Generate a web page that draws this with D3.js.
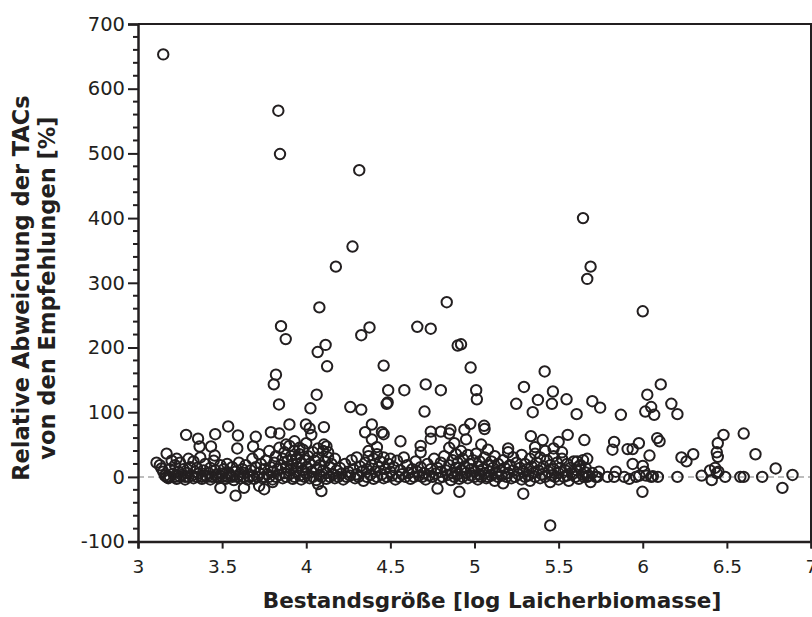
<!DOCTYPE html>
<html><head><meta charset="utf-8">
<script src="https://cdn.jsdelivr.net/npm/d3@7"></script>
<style>
html,body{margin:0;padding:0;background:#fff;}
svg text{fill:#231f20;}
</style></head>
<body><svg id="chart" width="812" height="617"></svg>
<script>
// x = log spawning stock biomass, y = relative deviation of TAC from advice [%]
const xTicks = [3, 3.5, 4, 4.5, 5, 5.5, 6, 6.5, 7];
const xTickLabels = ["3", "3.5", "4", "4.5", "5", "5.5", "6", "6.5", "7"];
const yTicks = [-100, 0, 100, 200, 300, 400, 500, 600, 700];
const yTickLabels = ["-100", "0", "100", "200", "300", "400", "500", "600", "700"];

// high outliers
const highPoints = [
[3.15,653],[3.834,566],[3.844,499],[4.315,474],[5.645,400],[4.275,356],[4.176,325],[5.69,325],[5.67,306],
[4.078,262],[4.835,270],[6.0,256],[3.85,233],[4.376,231],[4.66,232],[4.74,229],[4.327,219],[3.878,213],
[4.068,193],[4.115,204],[4.9,203],[4.92,205],[4.977,169],[4.124,171],[4.46,172],[3.82,158],[3.807,143],
[5.417,163],[6.107,143],[4.71,143],[4.487,134],[4.583,134],[4.8,134],[5.01,134],[5.294,139],[5.466,132],
[6.027,127],[5.014,120],[5.377,119],[5.547,120],[5.70,117],[5.747,107],[5.248,113],[5.46,113],[6.17,113],
[4.484,115],[4.478,113],[3.838,112],[4.062,127],[4.025,106],[4.262,108],[4.327,104],[4.703,101],[5.346,100],
[5.607,97],[5.87,96],[6.206,97],[6.015,101],[6.05,108],[6.068,96],[6.086,60],[6.1,55]
];
// medium points (40-85) and low outliers
const midPoints = [
[3.286,65],[3.357,59],[3.366,47],[3.434,47],[3.456,33],[3.459,66],[3.536,78],[3.594,64],[3.59,44],[3.70,62],
[3.684,47],[3.79,69],[3.84,67],[3.90,81],[3.998,81],[4.02,75],[4.03,65],[4.105,77],[4.105,50],[4.12,47],
[4.39,81],[4.35,69],[4.39,58],[4.45,69],[4.46,66],[4.56,55],[4.74,70],[4.74,59],[4.80,70],[4.857,73],
[4.85,67],[4.975,82],[4.94,73],[5.057,79],[5.06,74],[5.04,50],[5.335,63],[5.405,57],[5.5,54],[5.554,65],
[5.653,57],[5.83,54],[5.82,42],[5.977,52],[5.94,43],[5.91,43],[6.446,52],[6.48,65],[6.44,38],[6.446,31],
[6.6,67],[6.67,35],[6.79,13],[6.83,-17],[6.89,3],[6.71,0],[6.6,0],[6.58,0],[6.49,0],[6.41,-5],[6.43,14],
[6.45,8],[6.4,10],[6.35,2],[6.3,35],[6.23,30],[6.26,24],[6.206,0],[5.998,-23],[5.96,0],[6.05,0],[6.09,0],
[6.04,33],[6.0,17],[6.01,8],[5.94,20],[5.89,0],[5.92,-3],[5.83,0],[5.84,8],[5.73,0],[5.67,0],[5.66,7],
[5.67,28],[5.645,26],[5.61,24],[5.62,16],[5.45,-75],[5.29,-26],[4.91,-23],[4.78,-18],[4.09,-22],[4.07,-11],
[3.58,-29],[3.63,-17],[3.49,-17],[3.75,-19],[3.72,-14],[3.8,-8],[3.11,22],[3.14,13],[3.17,36],[3.23,28],[3.18,-1],
[6.02,2],[6.06,1],[5.79,0],[5.98,2],[6.44,6],
[3.88,50],[3.93,55],[3.96,45],[4.0,52],[4.07,44],[4.13,38],[4.37,40],[4.42,46],[4.68,48],[4.88,52],[4.95,58],
[5.08,42],[5.2,44],[5.36,46],[5.47,44],[5.52,38]
];
// dense band near zero
const bandPoints = [
[3.13,18],[3.15,8],[3.16,2],[3.17,0],[3.18,-2],[3.19,0],[3.19,12],[3.2,25],[3.21,5],[3.22,0],[3.22,18],[3.23,-3],
[3.24,8],[3.25,0],[3.25,22],[3.26,3],[3.27,12],[3.28,0],[3.28,-4],[3.29,6],[3.3,28],[3.3,0],[3.31,15],[3.32,2],
[3.33,-2],[3.33,24],[3.34,8],[3.35,0],[3.35,14],[3.36,5],[3.37,30],[3.38,0],[3.38,-3],[3.39,10],[3.4,2],[3.4,20],
[3.41,0],[3.42,6],[3.43,-4],[3.43,14],[3.44,0],[3.45,25],[3.46,3],[3.46,10],[3.47,0],[3.48,-2],[3.49,18],[3.5,5],
[3.5,0],[3.51,12],[3.52,-3],[3.53,0],[3.53,20],[3.54,6],[3.55,2],[3.56,15],[3.56,0],[3.57,-5],[3.58,8],[3.59,0],
[3.6,22],[3.6,3],[3.61,-2],[3.62,12],[3.63,0],[3.63,6],[3.64,18],[3.65,-4],[3.66,0],[3.67,10],[3.68,28],[3.68,2],
[3.69,-3],[3.7,15],[3.71,0],[3.72,35],[3.72,6],[3.73,20],[3.74,-2],[3.75,0],[3.75,12],[3.76,25],[3.77,4],[3.78,0],
[3.78,40],[3.79,15],[3.8,-4],[3.8,8],[3.81,22],[3.82,0],[3.82,32],[3.83,12],[3.84,3],[3.84,45],[3.85,18],[3.86,-2],
[3.86,28],[3.87,6],[3.87,38],[3.88,0],[3.88,15],[3.89,25],[3.9,4],[3.9,48],[3.91,12],[3.91,32],[3.92,-3],[3.92,20],
[3.93,0],[3.93,40],[3.94,8],[3.94,28],[3.95,15],[3.96,2],[3.96,35],[3.97,22],[3.97,-4],[3.98,10],[3.98,42],[3.99,0],
[3.99,26],[4.0,15],[4.0,5],[4.01,32],[4.02,-2],[4.02,20],[4.03,8],[4.04,38],[4.04,0],[4.05,25],[4.06,12],[4.06,-5],
[4.07,30],[4.08,3],[4.08,18],[4.09,0],[4.1,40],[4.1,10],[4.11,24],[4.12,-3],[4.12,6],[4.13,30],[4.14,0],[4.14,15],
[4.15,20],[4.16,4],[4.17,-2],[4.17,28],[4.18,10],[4.19,0],[4.2,14],[4.21,5],[4.22,-4],[4.23,20],[4.24,0],[4.25,8],
[4.26,2],[4.27,26],[4.28,12],[4.29,-2],[4.3,30],[4.3,4],[4.31,0],[4.32,16],[4.33,8],[4.34,-6],[4.35,22],[4.36,0],
[4.36,12],[4.37,32],[4.38,3],[4.39,18],[4.4,-3],[4.4,28],[4.41,8],[4.42,0],[4.42,35],[4.43,15],[4.44,24],[4.45,4],
[4.46,-2],[4.46,30],[4.47,12],[4.48,0],[4.49,20],[4.5,8],[4.5,28],[4.51,2],[4.52,15],[4.53,-4],[4.54,25],[4.55,0],
[4.56,10],[4.57,4],[4.58,30],[4.59,0],[4.6,18],[4.61,6],[4.62,-3],[4.63,12],[4.64,0],[4.65,24],[4.66,8],[4.67,2],
[4.68,38],[4.68,15],[4.69,0],[4.7,6],[4.71,-4],[4.72,20],[4.73,2],[4.74,12],[4.75,0],[4.76,28],[4.77,5],[4.78,14],
[4.79,-2],[4.8,8],[4.8,22],[4.81,0],[4.82,32],[4.83,10],[4.84,3],[4.85,18],[4.85,45],[4.86,-5],[4.87,26],[4.87,6],
[4.88,0],[4.89,14],[4.89,35],[4.9,4],[4.9,22],[4.91,-3],[4.92,10],[4.92,40],[4.93,0],[4.93,28],[4.94,16],[4.95,6],
[4.96,34],[4.96,-2],[4.97,20],[4.98,2],[4.98,12],[4.99,26],[5.0,0],[5.0,8],[5.01,36],[5.02,16],[5.02,-4],[5.03,4],
[5.03,24],[5.04,0],[5.05,12],[5.06,30],[5.06,6],[5.07,-2],[5.08,18],[5.08,0],[5.09,8],[5.1,24],[5.1,2],[5.11,14],
[5.12,-6],[5.12,32],[5.13,6],[5.14,0],[5.14,20],[5.15,10],[5.16,2],[5.17,26],[5.17,-10],[5.18,14],[5.19,0],[5.2,6],
[5.2,38],[5.21,18],[5.22,-2],[5.23,10],[5.23,30],[5.24,0],[5.25,22],[5.26,4],[5.27,14],[5.28,-4],[5.28,34],[5.29,8],
[5.3,0],[5.3,20],[5.31,12],[5.32,2],[5.33,28],[5.33,-6],[5.34,16],[5.35,6],[5.36,0],[5.36,36],[5.37,22],[5.38,10],
[5.39,-2],[5.39,30],[5.4,4],[5.41,16],[5.42,0],[5.42,40],[5.43,26],[5.44,8],[5.45,-8],[5.45,18],[5.46,2],[5.47,32],
[5.47,12],[5.48,0],[5.49,22],[5.5,6],[5.5,-4],[5.51,14],[5.52,28],[5.53,0],[5.54,10],[5.55,2],[5.55,20],[5.56,-6],
[5.57,14],[5.58,4],[5.59,24],[5.6,0],[5.61,10],[5.62,-3],[5.63,18],[5.64,4],[5.65,0],[5.66,14],[5.68,2],[5.69,-8],
[5.7,6],[5.72,0],[5.74,8]
];

const allPoints = highPoints.concat(midPoints, bandPoints);

const svg = d3.select("#chart");
const x = d3.scaleLinear().domain([3, 7]).range([138, 811]);
const y = d3.scaleLinear().domain([-100, 700]).range([541.6, 24]);
const FONT = "'DejaVu Sans', Verdana, sans-serif";

// zero reference line
svg.append("line")
  .attr("x1", x(3)).attr("x2", x(7))
  .attr("y1", y(0)).attr("y2", y(0))
  .attr("stroke", "#a8a8a8").attr("stroke-width", 1.5)
  .attr("stroke-dasharray", "6,4");

// points
svg.append("g").selectAll("circle").data(allPoints).join("circle")
  .attr("cx", d => x(d[0])).attr("cy", d => y(d[1]))
  .attr("r", 5.2).attr("fill", "none")
  .attr("stroke", "#231f20").attr("stroke-width", 2);

// frame top / right
svg.append("path")
  .attr("d", `M${x(3)},${y(700)}H${x(7)}V${y(-100)}`)
  .attr("fill", "none").attr("stroke", "#231f20").attr("stroke-width", 2);

// y axis
const yAxis = d3.axisLeft(y).tickValues(yTicks)
  .tickFormat((d, i) => yTickLabels[i]).tickSize(10).tickPadding(3);
const gy = svg.append("g").attr("transform", `translate(${x(3)},0)`).call(yAxis);
gy.select(".domain").attr("stroke", "#231f20").attr("stroke-width", 2.5);
gy.selectAll(".tick line").attr("stroke", "#231f20").attr("stroke-width", 2);
gy.selectAll("text").attr("font-family", FONT)
  .attr("font-size", 19.5).style("fill", "#231f20");
// minor y ticks
const yMinor = d3.range(-100, 701, 20).filter(v => v % 100 !== 0);
svg.append("g").selectAll("line").data(yMinor).join("line")
  .attr("x1", x(3) - 5).attr("x2", x(3))
  .attr("y1", d => y(d)).attr("y2", d => y(d))
  .attr("stroke", "#231f20").attr("stroke-width", 2);

// x axis
const xAxis = d3.axisBottom(x).tickValues(xTicks)
  .tickFormat((d, i) => xTickLabels[i]).tickSize(7).tickPadding(11);
const gx = svg.append("g").attr("transform", `translate(0,${y(-100)})`).call(xAxis);
gx.select(".domain").attr("stroke", "#231f20").attr("stroke-width", 2.5);
gx.selectAll(".tick line").attr("stroke", "#231f20").attr("stroke-width", 2);
gx.selectAll("text").attr("font-family", FONT)
  .attr("font-size", 18.5).style("fill", "#231f20");

// axis titles
svg.append("text")
  .attr("x", 492).attr("y", 608)
  .attr("text-anchor", "middle")
  .attr("font-family", FONT)
  .attr("font-weight", "bold").attr("font-size", 21.5)
  .text("Bestandsgröße [log Laicherbiomasse]");

const yt = svg.append("text")
  .attr("transform", "translate(0,288) rotate(-90)")
  .attr("text-anchor", "middle")
  .attr("font-family", FONT)
  .attr("font-weight", "bold").attr("font-size", 22.5);
yt.append("tspan").attr("x", 0).attr("y", 29).text("Relative Abweichung der TACs");
yt.append("tspan").attr("x", 0).attr("y", 55).text("von den Empfehlungen [%]");
</script>
</body></html>
